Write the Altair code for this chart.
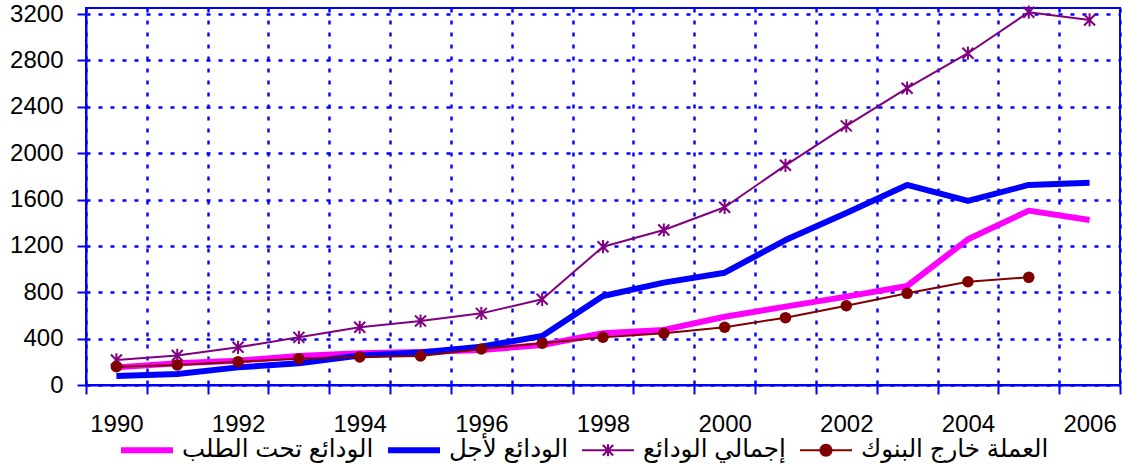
import altair as alt
import pandas as pd

# Years on the category axis
years = list(range(1990, 2007))

# Series values (same order as the years)
demand_deposits = [152, 187, 210, 250, 273, 285, 302, 345, 446, 475, 589, 676, 762, 854, 1257, 1504, 1424]
time_deposits = [78, 95, 152, 187, 255, 280, 331, 423, 768, 883, 969, 1250, 1484, 1726, 1588, 1726, 1745]
total_deposits = [216, 255, 325, 411, 498, 552, 618, 739, 1193, 1337, 1533, 1895, 2235, 2560, 2862, 3216, 3149]
currency_outside = [158, 173, 201, 227, 242, 250, 311, 360, 412, 446, 498, 581, 684, 791, 891, 929, None]

names = ["الودائع تحت الطلب", "الودائع لأجل", "إجمالي الودائع", "العملة خارج البنوك"]
colors = ["#FF00FF", "#0000FF", "#800080", "#800000"]
line_widths = [6, 6, 2, 2]
y_ticks = [0, 400, 800, 1200, 1600, 2000, 2400, 2800, 3200]

FONT = "Liberation Sans, Arial, DejaVu Sans"
BLUE = "#0000FF"

series_values = [demand_deposits, time_deposits, total_deposits, currency_outside]


def frame(values):
    rows = [(y, v) for y, v in zip(years, values) if v is not None]
    return pd.DataFrame(rows, columns=["year", "value"])


# Gridlines/ticks sit on category boundaries, labels on every second category centre
boundaries = [y - 0.5 for y in years] + [years[-1] + 0.5]
label_years = [y for y in years if y % 2 == 0]

x_axis = alt.Axis(
    values=sorted(boundaries + label_years),
    labelExpr="datum.value % 2 == 0 ? '' + datum.value : ''",
    tickOpacity={"condition": {"test": "datum.value % 1 == 0", "value": 0}, "value": 1},
    gridOpacity={"condition": {"test": "datum.value % 1 == 0", "value": 0}, "value": 1},
    tickSize=9, tickColor=BLUE, tickWidth=2,
    domainColor=BLUE, domainWidth=2,
    grid=True, gridColor=BLUE, gridDash=[4, 8], gridWidth=2.4,
    labelFont=FONT, labelFontSize=24, labelColor="black", labelPadding=18,
    labelOverlap=False, labelFlush=False, labelBound=False, title=None,
)
y_axis = alt.Axis(
    values=y_ticks, format="d",
    tickSize=9, tickColor=BLUE, tickWidth=2,
    domainColor=BLUE, domainWidth=2,
    grid=True, gridColor=BLUE, gridDash=[4, 8], gridWidth=2.4,
    labelFont=FONT, labelFontSize=24, labelColor="black", labelPadding=14,
    labelOverlap=False, title=None,
)

x_enc = alt.X("year:Q", scale=alt.Scale(domain=[years[0] - 0.5, years[-1] + 0.5], nice=False, zero=False), axis=x_axis)
y_enc = alt.Y("value:Q", scale=alt.Scale(domain=[0, 3252], nice=False), axis=y_axis)

layers = []
for vals, col, w in zip(series_values, colors, line_widths):
    layers.append(
        alt.Chart(frame(vals)).mark_line(color=col, strokeWidth=w, strokeJoin="round")
        .encode(x=x_enc, y=y_enc)
    )

# Markers: asterisks on total deposits, filled circles on currency
asterisk = "M-1,-1L1,1M-1,1L1,-1M0,-1.2L0,1.2"
layers.append(
    alt.Chart(frame(total_deposits)).mark_point(shape=asterisk, filled=False, color=colors[2],
                                                 size=121, strokeWidth=2, opacity=1)
    .encode(x=x_enc, y=y_enc)
)
layers.append(
    alt.Chart(frame(currency_outside)).mark_circle(color=colors[3], size=133, opacity=1)
    .encode(x=x_enc, y=y_enc)
)

# Legend symbols: line sample (plus marker) drawn as filled paths
thick = "M-1,-0.115H1V0.115H-1Z"
thin = "M-1,-0.04H1V0.04H-1Z"
star = ("M-0.04,-0.23H0.04V0.23H-0.04Z"
        "M-0.172,-0.228L0.228,0.172L0.172,0.228L-0.228,-0.172Z"
        "M-0.172,0.228L-0.228,0.172L0.172,-0.228L0.228,-0.172Z")
dot = "M0.25,0A0.25,0.25 0 1,1 -0.25,0A0.25,0.25 0 1,1 0.25,0Z"
legend_paths = [thick, thick, thin + star, thin + dot]

legend = alt.Legend(
    orient="none", legendX=35, legendY=416, direction="horizontal", columns=4,
    title=None, symbolSize=2704, symbolOpacity=1, symbolStrokeWidth=0,
    labelFont=FONT, labelFontSize=24.5, labelColor="black", labelOffset=9,
    labelLimit=400, columnPadding=14, padding=0,
)
layers.append(
    alt.Chart(pd.DataFrame({"series": names})).transform_filter("false")
    .mark_point(filled=True, opacity=1)
    .encode(
        color=alt.Color("series:N", scale=alt.Scale(domain=names, range=colors), legend=legend),
        shape=alt.Shape("series:N", scale=alt.Scale(domain=names, range=legend_paths), legend=legend),
    )
)

chart = (
    alt.layer(*layers)
    .properties(
        width=1034, height=377,
        autosize=alt.AutoSizeParams(type="none"),
        padding={"left": 86, "top": 8, "right": 2, "bottom": 88},
        background="white",
    )
    .configure_view(stroke=BLUE, strokeWidth=2)
)

chart.save("out.html", embed_options={"renderer": "svg", "actions": False})
